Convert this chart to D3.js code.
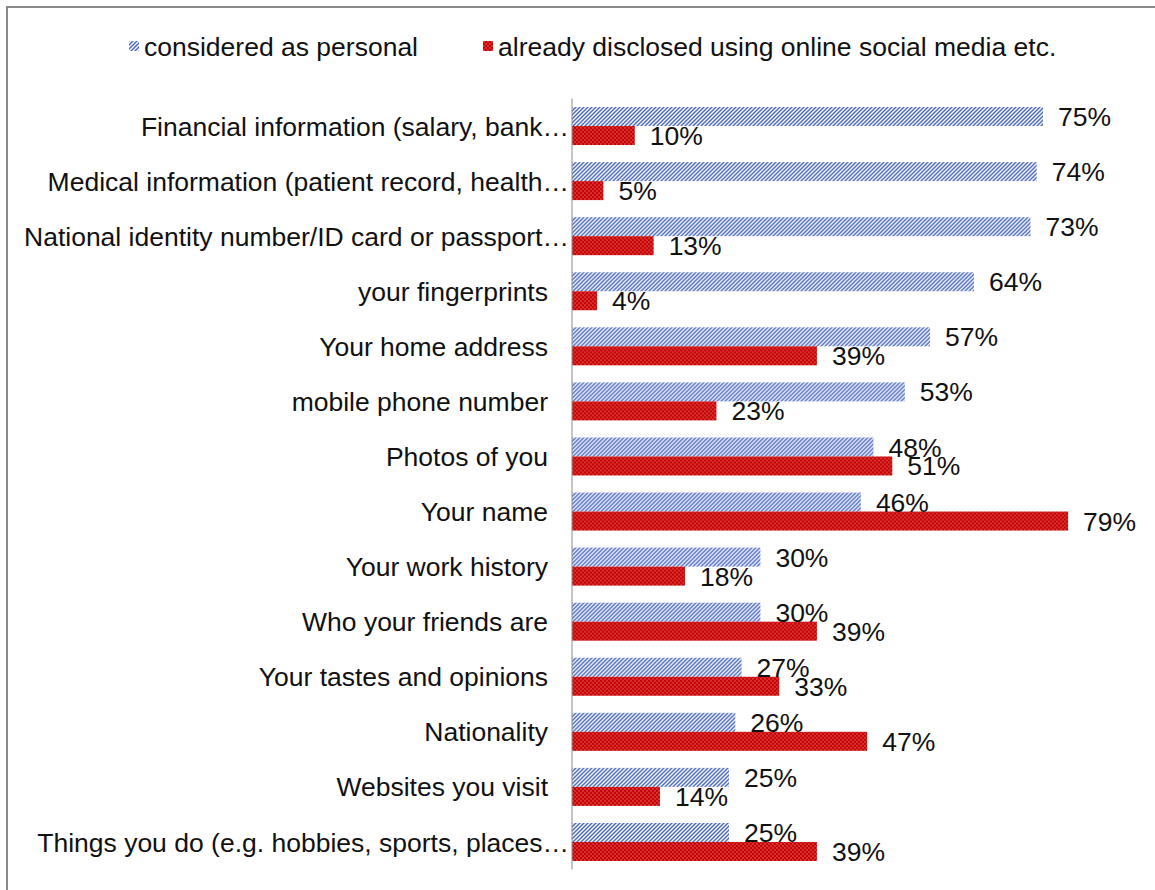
<!DOCTYPE html>
<html>
<head>
<meta charset="utf-8">
<script src="https://cdn.jsdelivr.net/npm/d3@7"></script>
<style>
  html, body { margin: 0; padding: 0; background: #fff; }
  svg { display: block; font-family: "Liberation Sans", Arial, sans-serif; }
</style>
</head>
<body>
<svg id="chart" width="1155" height="890"></svg>
<script>
// Categories, top to bottom
const categories = [
  "Financial information (salary, bank…",
  "Medical information (patient record, health…",
  "National identity number/ID card or passport…",
  "your fingerprints",
  "Your home address",
  "mobile phone number",
  "Photos of you",
  "Your name",
  "Your work history",
  "Who your friends are",
  "Your tastes and opinions",
  "Nationality",
  "Websites you visit",
  "Things you do (e.g. hobbies, sports, places…"
];
const truncated = [true, true, true, false, false, false, false, false, false, false, false, false, false, true];

// Share of respondents (%)
const personal = [75, 74, 73, 64, 57, 53, 48, 46, 30, 30, 27, 26, 25, 25];
const disclosed = [10, 5, 13, 4, 39, 23, 51, 79, 18, 39, 33, 47, 14, 39];

const seriesNames = ["considered as personal", "already disclosed using online social media etc."];

const svg = d3.select("#chart");
const defs = svg.append("defs");

// Diagonal hatch for the first series
const hatch = defs.append("pattern")
  .attr("id", "hatchBlue")
  .attr("patternUnits", "userSpaceOnUse")
  .attr("width", 4).attr("height", 4);
hatch.append("rect").attr("width", 4).attr("height", 4).attr("fill", "#ffffff");
hatch.append("path")
  .attr("d", "M-1,1 L1,-1 M0,4 L4,0 M3,5 L5,3")
  .attr("stroke", "#4a68c0").attr("stroke-width", 1.5);

// Dotted red fill for the second series
const dots = defs.append("pattern")
  .attr("id", "dotsRed")
  .attr("patternUnits", "userSpaceOnUse")
  .attr("width", 4).attr("height", 4);
dots.append("rect").attr("width", 4).attr("height", 4).attr("fill", "#c80000");
dots.append("rect").attr("x", 0.5).attr("y", 0.5).attr("width", 1).attr("height", 1).attr("fill", "#ffffff").attr("opacity", 0.8);
dots.append("rect").attr("x", 2.5).attr("y", 2.5).attr("width", 1).attr("height", 1).attr("fill", "#ffffff").attr("opacity", 0.8);

const fills = ["url(#hatchBlue)", "url(#dotsRed)"];

// Outer frame
svg.append("rect")
  .attr("x", 7).attr("y", 7)
  .attr("width", 1160).attr("height", 900)
  .attr("fill", "none")
  .attr("stroke", "#8a8a8a").attr("stroke-width", 2);

const x = d3.scaleLinear().domain([0, 75]).range([572, 1043]);
const y = d3.scaleBand().domain(categories).range([98.5, 869.5]).paddingInner(0.31).paddingOuter(0.155);
const inner = d3.scaleBand().domain([0, 1]).range([0, y.bandwidth()]);

const fontSize = 26.5;

// Bars
const rows = categories.map((c, i) => ({ c, vals: [personal[i], disclosed[i]] }));
const g = svg.append("g");
const rowG = g.selectAll("g.row").data(rows).join("g")
  .attr("class", "row")
  .attr("transform", d => `translate(0,${y(d.c)})`);

rowG.selectAll("rect").data(d => d.vals.map((v, k) => ({ v, k }))).join("rect")
  .attr("x", x(0))
  .attr("y", d => inner(d.k))
  .attr("width", d => x(d.v) - x(0))
  .attr("height", inner.bandwidth())
  .attr("fill", d => fills[d.k]);

// Value labels
rowG.selectAll("text.val").data(d => d.vals.map((v, k) => ({ v, k }))).join("text")
  .attr("class", "val")
  .attr("x", d => x(d.v) + 15)
  .attr("y", d => inner(d.k) + inner.bandwidth() / 2)
  .attr("dy", "0.36em")
  .attr("font-size", fontSize)
  .attr("fill", "#111")
  .text(d => d.v + "%");

// Category axis line
svg.append("line")
  .attr("x1", x(0)).attr("x2", x(0))
  .attr("y1", y.range()[0]).attr("y2", y.range()[1])
  .attr("stroke", "#8c8c8c").attr("stroke-width", 1);

// Category labels
svg.append("g").selectAll("text").data(categories).join("text")
  .attr("x", (d, i) => truncated[i] ? 569 : 548)
  .attr("y", d => y(d) + y.bandwidth() / 2)
  .attr("dy", "0.36em")
  .attr("text-anchor", "end")
  .attr("font-size", fontSize)
  .attr("fill", "#111")
  .text(d => d);

// Legend
const legendX = [129, 483];
const leg = svg.append("g").selectAll("g").data(seriesNames).join("g")
  .attr("transform", (d, i) => `translate(${legendX[i]},41)`);
leg.append("rect").attr("width", 10).attr("height", 10).attr("fill", (d, i) => fills[i]);
leg.append("text")
  .attr("x", 15).attr("y", 5)
  .attr("dy", "0.36em")
  .attr("font-size", fontSize)
  .attr("fill", "#111")
  .text(d => d);
</script>
</body>
</html>
